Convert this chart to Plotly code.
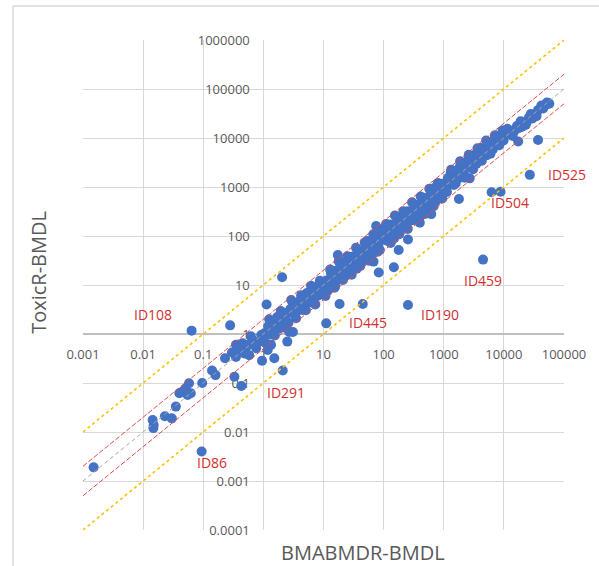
import math
import plotly.graph_objects as go

# ---------------------------------------------------------------------------
# BMDL estimates per dataset: BMABMDR (x) against ToxicR (y)
# ---------------------------------------------------------------------------
low_x = [0.0015, 0.0144, 0.015, 0.0148, 0.023, 0.030, 0.035, 0.040, 0.045, 0.051,
         0.058, 0.062, 0.055, 0.096, 0.14, 0.16, 0.23, 0.28, 0.33, 0.43,
         0.35, 0.45, 0.40, 0.35, 0.51, 0.58, 0.66, 0.76, 0.86, 1.04,
         1.10, 1.18, 1.34, 1.43, 1.63, 0.95, 1.52, 0.62, 0.72, 0.92,
         0.55, 0.48, 0.30]
low_y = [0.0019, 0.0176, 0.0139, 0.012, 0.021, 0.019, 0.033, 0.062, 0.066, 0.078,
         0.099, 0.062, 0.057, 0.10, 0.18, 0.145, 0.32, 1.5, 0.134, 0.087,
         0.60, 0.65, 0.44, 0.34, 0.51, 0.37, 0.75, 0.51, 0.70, 1.03,
         0.65, 0.47, 0.60, 1.41, 1.78, 0.285, 0.32, 0.90, 0.62, 0.95,
         0.60, 0.40, 0.42]

units_x = [1.05, 1.2, 1.3, 1.45, 1.6, 1.7, 1.85, 2.0, 2.15, 2.3,
           2.45, 2.6, 2.8, 3.0, 3.2, 3.4, 3.6, 3.9, 4.1, 4.4,
           4.7, 5.0, 5.3, 5.6, 6.0, 6.3, 6.7, 7.1, 7.5, 8.0,
           8.4, 8.9, 9.4, 9.8, 1.13, 2.05, 2.7, 2.5, 3.1, 3.7, 3.1,
           1.25, 1.55, 1.95, 2.4, 2.9, 3.5, 4.25, 5.1, 6.2, 7.3, 8.7]
units_y = [0.95, 1.44, 0.98, 1.6, 1.36, 2.21, 1.3, 2.0, 2.69, 1.84,
           2.57, 1.69, 3.22, 2.7, 4.32, 2.55, 3.6, 3.32, 4.92, 3.08,
           4.94, 4.5, 6.89, 4.48, 5.7, 4.41, 7.7, 6.04, 7.5, 6.0,
           10.1, 8.0, 7.52, 10.3, 4.0, 14.4, 1.1, 0.70, 1.1, 3.1, 4.3,
           2.0, 0.93, 2.93, 1.32, 4.93, 2.1, 6.16, 3.06, 9.61, 4.02, 12.2]

tens_x = [10.5, 11.2, 11.8, 12.5, 13.3, 14.0, 14.8, 15.6, 16.5, 17.4,
          18.4, 19.5, 20.6, 21.8, 23.0, 24.3, 25.7, 27.2, 28.7, 30.3,
          32.0, 33.9, 35.8, 37.8, 40.0, 42.2, 44.6, 47.2, 49.8, 52.7,
          55.7, 58.8, 62.1, 65.7, 69.4, 73.3, 77.5, 81.9, 86.5, 91.4,
          96.6, 11.1, 18.5, 17.3, 68, 83, 75,
          10.8, 12.9, 15.2, 17.9, 21.1, 24.9, 29.4, 34.7, 41.0, 48.4,
          57.1, 67.4, 79.5, 93.8]
tens_y = [8.4, 12.3, 7.67, 11.9, 17.3, 10.5, 14.8, 9.36, 19.8, 14.8,
          12.9, 20.5, 28.8, 17.4, 21.9, 15.8, 29.6, 24.5, 20.1, 37.9,
          27.2, 33.9, 21.5, 51.0, 32.0, 40.1, 31.2, 51.9, 42.3, 79.1,
          41.8, 58.8, 40.4, 78.8, 62.5, 55.0, 101, 69.6, 51.9, 96.0,
          86.9, 1.65, 4.1, 41, 30, 18, 160,
          5.94, 20.6, 8.82, 30.4, 12.7, 38.6, 16.2, 57.3, 24.6, 72.6,
          31.4, 108, 47.7, 136]

hundreds_x = [102, 108, 114, 120, 127, 134, 141, 149, 157, 166,
              175, 185, 195, 206, 217, 229, 242, 255, 269, 284,
              300, 317, 334, 353, 372, 393, 415, 438, 462, 488,
              515, 543, 573, 605, 639, 674, 712, 751, 793, 837,
              883, 932, 984, 148, 178, 254, 400, 620,
              110, 131, 154, 182, 214, 252, 297, 350, 413, 487,
              575, 678, 800, 944]
hundreds_y = [86.7, 130, 79.8, 120, 171, 107, 134, 89.4, 181, 141,
              175, 130, 254, 185, 163, 252, 157, 319, 229, 284,
              210, 444, 301, 282, 428, 236, 415, 372, 601, 366,
              541, 489, 372, 726, 511, 674, 961, 526, 753, 963,
              706, 1165, 886, 23, 52, 85, 187, 280,
              176, 72.1, 262, 109, 321, 139, 490, 210, 640, 282,
              920, 407, 1200, 585]

thousands_x = [1040, 1100, 1170, 1240, 1310, 1390, 1470, 1560, 1650, 1750,
               1850, 1960, 2080, 2200, 2330, 2470, 2620, 2770, 2940, 3110,
               3300, 3490, 3700, 3920, 4150, 4400, 4660, 4940, 5230, 5540,
               5870, 6220, 6590, 6980, 7400, 7840, 8300, 8800, 9320, 9880,
               1790, 2700, 6250,
               1130, 1330, 1580, 1870, 2210, 2610, 3080, 3640, 4300, 5080,
               6000, 7090, 8370, 9500]
thousands_y = [1144, 880, 1521, 1178, 1965, 1390, 1103, 1950, 1815, 1488,
               2590, 1960, 2496, 1760, 3146, 2594, 4061, 2493, 3528, 3110,
               4620, 2967, 4625, 4312, 6225, 4180, 6058, 5681, 4446, 7756,
               6164, 7775, 5931, 9423, 8140, 7448, 10790, 8800, 11184, 8892,
               570, 1500, 780,
               791, 2261, 1185, 3366, 1547, 4568, 2310, 6188, 3440, 8890,
               4800, 11344, 7115, 14250]

top_x = [11000, 12000, 13000, 15000, 16500, 18000, 20000, 22000, 24000, 26000,
         30000, 33000, 37000, 40000, 45000, 47000, 50000, 52000, 55000, 57000,
         17300, 37000, 11500, 14000, 19000, 23000, 28000, 35000, 42000]
top_y = [11500, 13500, 12000, 14000, 17500, 16000, 17000, 21000, 21000, 26000,
         25000, 30000, 37000, 40000, 40000, 45000, 48000, 53000, 52000, 50000,
         8500, 9100, 15500, 11000, 22000, 18500, 31000, 28000, 46000]

# Flagged datasets with large disagreement between the two tools
flag_ids = ["ID108", "ID86", "ID291", "ID445", "ID190", "ID459", "ID504", "ID525"]
flag_x = [0.064, 0.094, 2.1, 45, 254, 4500, 8800, 27000]
flag_y = [1.17, 0.004, 0.18, 4.1, 3.9, 33, 800, 1770]

# Axis ticks
x_tick_vals = [0.001, 0.01, 0.1, 1, 10, 100, 1000, 10000, 100000]
x_tick_text = ["0.001", "0.01", "0.1", "1", "10", "100", "1000", "10000", "100000"]
y_tick_vals = [0.0001, 0.001, 0.01, 0.1, 1, 10, 100, 1000, 10000, 100000, 1000000]
y_tick_text = ["0.0001", "0.001", "0.01", "0.1", "1", "10", "100", "1000",
               "10000", "100000", "1000000"]

# Span of the agreement reference lines
ref_x = [0.001, 100000]

bmabmdr = low_x + units_x + tens_x + hundreds_x + thousands_x + top_x + flag_x
toxicr = low_y + units_y + tens_y + hundreds_y + thousands_y + top_y + flag_y

# ---------------------------------------------------------------------------
fig = go.Figure()

fig.add_trace(go.Scatter(
    x=bmabmdr, y=toxicr, mode="markers",
    marker=dict(color="#4472C4", size=10, line=dict(width=0)),
    hoverinfo="x+y",
))

# y = x, 2-fold and 10-fold agreement bands
ref_lines = [
    (1, "#a6a6a6", "4px,3px", 1),
    (2, "#e04a4a", "5px,2px", 1),
    (0.5, "#e04a4a", "5px,2px", 1),
    (10, "#ffc000", "dot", 1.6),
    (0.1, "#ffc000", "dot", 1.6),
]
for factor, color, dash, width in ref_lines:
    fig.add_trace(go.Scatter(
        x=ref_x, y=[v * factor for v in ref_x], mode="lines",
        line=dict(color=color, dash=dash, width=width),
        hoverinfo="skip",
    ))

# Label placement next to each flagged point (pixel shifts)
label_shift = {
    "ID108": (-39, 16, "center"),
    "ID86": (10, -11, "center"),
    "ID291": (3, -22, "center"),
    "ID445": (5, -19, "center"),
    "ID190": (32, -9, "center"),
    "ID459": (0, -21, "center"),
    "ID504": (9, -11, "center"),
    "ID525": (16, 0, "left"),
}
annotations = []
for name, fx, fy in zip(flag_ids, flag_x, flag_y):
    dx, dy, anchor = label_shift[name]
    annotations.append(dict(
        x=math.log10(fx), y=math.log10(fy), xref="x", yref="y",
        text=name, showarrow=False, xanchor=anchor, yanchor="middle",
        xshift=dx, yshift=dy,
        font=dict(family="Open Sans", size=14, color="#d0302f"),
    ))

# Axis titles
annotations.append(dict(
    x=0.582, y=-0.046, xref="paper", yref="paper", text="BMABMDR-BMDL",
    showarrow=False, xanchor="center", yanchor="middle",
    font=dict(family="Open Sans", size=20, color="#595959"),
))
annotations.append(dict(
    x=-0.094, y=0.5265, xref="paper", yref="paper", text="ToxicR-BMDL",
    showarrow=False, xanchor="center", yanchor="middle", textangle=-90,
    font=dict(family="Open Sans", size=20, color="#595959"),
))

# Chart-area frame (left and top edges)
frame = dict(color="#d9d9d9", width=1.5)
shapes = [
    dict(type="line", xref="paper", yref="paper", x0=-0.1455, x1=-0.1455,
         y0=-0.2, y1=1.0694, line=frame),
    dict(type="line", xref="paper", yref="paper", x0=-0.1455, x1=1.2,
         y0=1.0694, y1=1.0694, line=frame),
]

tick_font = dict(family="Open Sans", size=13, color="#595959")
fig.update_layout(
    width=599, height=566,
    margin=dict(l=83, r=35, t=40, b=36),
    paper_bgcolor="white", plot_bgcolor="white",
    showlegend=False,
    annotations=annotations,
    shapes=shapes,
    xaxis=dict(
        type="log", range=[-3, 5], anchor="free", position=0.4,
        tickvals=x_tick_vals, ticktext=x_tick_text, tickfont=tick_font,
        showgrid=True, gridcolor="#d9d9d9", gridwidth=1,
        showline=True, linecolor="#bfbfbf", linewidth=1.5,
        ticks="", ticklabelstandoff=9, layer="below traces",
    ),
    yaxis=dict(
        type="log", range=[-4, 6], anchor="free", position=0.375,
        tickvals=y_tick_vals, ticktext=y_tick_text, tickfont=tick_font,
        showgrid=True, gridcolor="#d9d9d9", gridwidth=1,
        showline=True, linecolor="#d9d9d9", linewidth=1,
        ticks="", ticklabelstandoff=11, layer="below traces",
    ),
)

fig.write_html("out.html")
